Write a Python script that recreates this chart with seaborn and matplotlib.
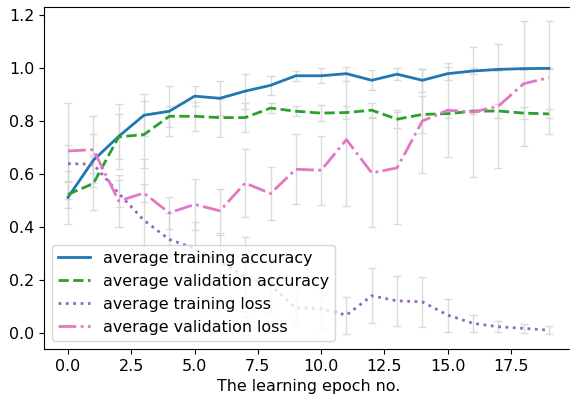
"""Average training / validation accuracy and loss per learning epoch."""

import matplotlib
matplotlib.use("Agg")
import matplotlib.pyplot as plt
import seaborn as sns
import pandas as pd

epochs = list(range(20))

train_acc = [0.513, 0.653, 0.743, 0.823, 0.838, 0.895, 0.887, 0.914, 0.936, 0.972,
             0.972, 0.980, 0.955, 0.978, 0.955, 0.980, 0.990, 0.996, 0.999, 1.000]
val_acc = [0.524, 0.565, 0.741, 0.750, 0.819, 0.819, 0.814, 0.814, 0.850, 0.838,
           0.831, 0.833, 0.842, 0.808, 0.826, 0.829, 0.838, 0.839, 0.831, 0.828]
train_loss = [0.640, 0.638, 0.528, 0.426, 0.354, 0.320, 0.270, 0.212, 0.181, 0.095,
              0.092, 0.068, 0.141, 0.122, 0.118, 0.068, 0.037, 0.024, 0.018, 0.011]
val_loss = [0.688, 0.693, 0.499, 0.529, 0.454, 0.486, 0.462, 0.567, 0.527, 0.619,
            0.615, 0.731, 0.605, 0.624, 0.801, 0.842, 0.835, 0.857, 0.942, 0.965]

# standard deviations (error bars)
train_acc_sd = [0.10, 0.10, 0.124, 0.080, 0.095, 0.038, 0.065, 0.066, 0.036, 0.018,
                0.028, 0.026, 0.037, 0.022, 0.044, 0.025, 0.010, 0.006, 0.004, 0.002]
val_acc_sd = [0.05, 0.10, 0.085, 0.127, 0.040, 0.055, 0.072, 0.054, 0.020, 0.018,
              0.030, 0.026, 0.026, 0.033, 0.070, 0.015, 0.010, 0.025, 0.022, 0.017]
train_loss_sd = [0.07, 0.035, 0.05, 0.23, 0.10, 0.10, 0.10, 0.15, 0.10, 0.06,
                 0.075, 0.070, 0.104, 0.094, 0.094, 0.062, 0.032, 0.020, 0.017, 0.015]
val_loss_sd = [0.18, 0.126, 0.10, 0.033, 0.06, 0.095, 0.083, 0.128, 0.10, 0.133,
               0.13, 0.25, 0.206, 0.213, 0.198, 0.178, 0.246, 0.235, 0.236, 0.213]

labels = ["average training accuracy", "average validation accuracy",
          "average training loss", "average validation loss"]
series = [train_acc, val_acc, train_loss, val_loss]
errors = [train_acc_sd, val_acc_sd, train_loss_sd, val_loss_sd]
colors = ["tab:blue", "tab:green", "tab:purple", "tab:pink"]
dashes = ["-", "--", ":", "-."]

# plain matplotlib look (black frame, no grid)
sns.reset_orig()
plt.rcParams['font.family'] = ['DejaVu Sans']
fsize = 11.4

fig = plt.figure(figsize=(5.70, 4.01), dpi=100)
ax = fig.add_axes([0.0772, 0.1297, 0.928, 0.853])

for vals, errs in zip(series, errors):
    ax.errorbar(epochs, vals, yerr=errs, fmt='none', ecolor='lightgrey',
                elinewidth=1.0, capsize=3, alpha=0.8, zorder=1)

for lbl, vals, col, ls in zip(labels, series, colors, dashes):
    dfrm = pd.DataFrame({'epoch': epochs, 'value': vals})
    sns.lineplot(x='epoch', y='value', data=dfrm, ax=ax, color=col,
                 linestyle=ls, linewidth=2.0, label=lbl, zorder=3)

ax.set_xlim(-0.95, 19.95)
ax.set_ylim(-0.06, 1.232)
ax.set_xlabel("The learning epoch no.", fontsize=fsize)
ax.set_ylabel("")
ax.tick_params(labelsize=fsize)
for spine in ax.spines.values():
    spine.set_visible(True)
    spine.set_color('black')
ax.legend(loc='lower left', fontsize=fsize, frameon=True)

fig.savefig("out.png", dpi=100)
